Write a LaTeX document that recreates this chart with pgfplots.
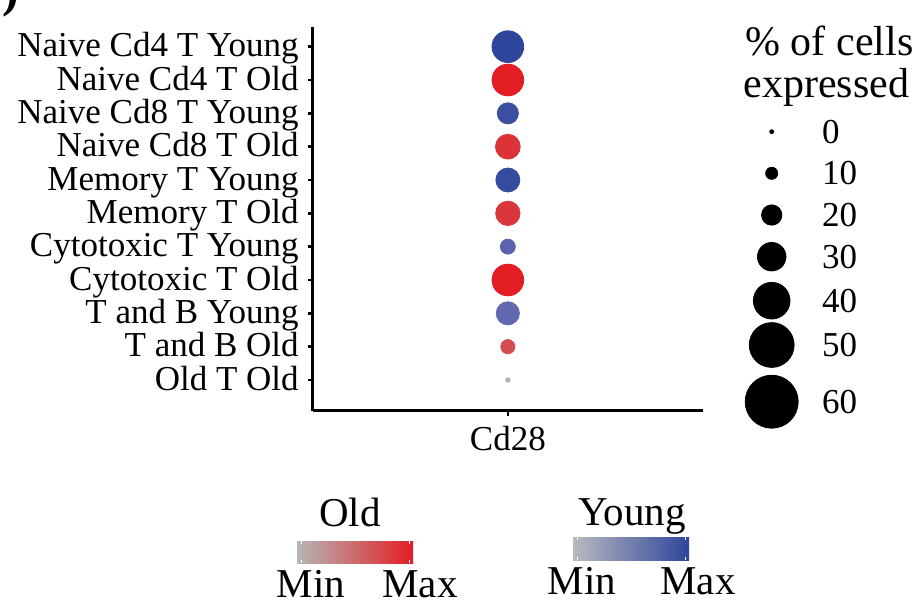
\documentclass[border=0pt]{standalone}
\usepackage{pgfplots}
\pgfplotsset{compat=1.18}
\usepackage{pgfplotstable}
\usepackage{fontspec}
\setmainfont{Liberation Serif}
\definecolor{oldred}{RGB}{226,30,36}
\definecolor{oldmid}{RGB}{206,110,112}
\definecolor{oldgrey}{RGB}{182,182,182}
\definecolor{youngblue}{RGB}{45,70,155}
\definecolor{youngmid}{RGB}{122,122,186}
\definecolor{younggrey}{RGB}{185,185,190}
\pgfplotsset{
  colormap={youngmap}{rgb255=(180,180,185) rgb255=(120,120,185) rgb255=(45,70,155)},
  colormap={oldmap}{rgb255=(175,175,175) rgb255=(226,30,36)},
}
% y: category position, pct: % of cells expressed, int: scaled expression
\pgfplotstableread{
x y pct int
1 11 34 1.00
1 9 21 0.90
1 7 24.5 0.95
1 5 13.5 0.70
1 3 23.5 0.65
}\youngdata
\pgfplotstableread{
x y pct int
1 10 34 1.00
1 8 25.5 0.85
1 6 25 0.82
1 4 34 1.00
1 2 12.5 0.68
1 1 0.5 0.00
}\olddata
\pgfplotstableread{
x y pct
771.7 -131.7 0
771.7 -173.3 10
771.7 -215 20
771.7 -256.7 30
771.7 -300.7 40
771.7 -345 50
771.7 -401.7 60
}\legenddata
\newcommand\lab{\fontsize{17.5bp}{20bp}\selectfont}
\newcommand\bigfont{\fontsize{21bp}{25bp}\selectfont}
\begin{document}
\begin{tikzpicture}
\useasboundingbox (0,0) rectangle (459.5bp,-301bp);
\begin{axis}[
  at={(156.35bp,-205.35bp)}, anchor=south west,
  width=195.15bp, height=191.85bp, scale only axis,
  xmin=0, xmax=2, ymin=0.079, ymax=11.59,
  axis x line=bottom, axis y line=left,
  axis line style={-, line width=1.5bp, black},
  xtick={1}, xticklabels={Cd28},
  ytick={1,2,3,4,5,6,7,8,9,10,11},
  yticklabels={Old T Old, T and B Old, T and B Young, Cytotoxic T Old, Cytotoxic T Young, Memory T Old, Memory T Young, Naive Cd8 T Old, Naive Cd8 T Young, Naive Cd4 T Old, Naive Cd4 T Young},
  tick align=outside, major tick length=2.5bp,
  tick style={line width=1.2bp, black},
  ticklabel style={font=\lab},
  yticklabel style={xshift=-1bp, text height=12bp, text depth=2bp},
  xticklabel style={yshift=-1.5bp},
  point meta min=0, point meta max=1,
  clip=false,
]
\addplot[scatter, only marks, mark=*, colormap name=youngmap,
  scatter/use mapped color={draw=mapped color, fill=mapped color},
  visualization depends on={\thisrow{pct} \as \pct},
  scatter/@pre marker code/.append style={/tikz/mark size=1+0.205*\pct},
  point meta=\thisrow{int}] table[x=x, y=y] {\youngdata};
\addplot[scatter, only marks, mark=*, colormap name=oldmap,
  scatter/use mapped color={draw=mapped color, fill=mapped color},
  visualization depends on={\thisrow{pct} \as \pct},
  scatter/@pre marker code/.append style={/tikz/mark size=1+0.205*\pct},
  point meta=\thisrow{int}] table[x=x, y=y] {\olddata};
\end{axis}
\begin{axis}[
  at={(370bp,-210bp)}, anchor=south west,
  width=30bp, height=150bp, scale only axis,
  xmin=740, xmax=800, ymin=-420, ymax=-120,
  hide axis, clip=false,
  /pgf/number format/assume math mode=true,
]
\addplot[scatter, only marks, mark=*,
  scatter/use mapped color={draw=black, fill=black},
  visualization depends on={\thisrow{pct} \as \pct},
  scatter/@pre marker code/.append style={/tikz/mark size=1+0.205*\pct},
  point meta=\thisrow{pct}]
  table[x=x, y=y] {\legenddata};
\addplot[only marks, mark=none, point meta=\thisrow{pct},
  nodes near coords,
  nodes near coords style={anchor=west, xshift=25bp, inner sep=0pt, font=\lab, text=black}]
  table[x=x, y=y] {\legenddata};
\end{axis}
% legend title
\node[anchor=base west, inner sep=0pt, font=\bigfont] at (372.5bp,-27.5bp) {\% of cells};
\node[anchor=base west, inner sep=0pt, font=\bigfont] at (371.5bp,-48.5bp) {expressed};
% panel letter (cut off)
\node[anchor=base east, inner sep=0pt, font=\fontsize{25bp}{28bp}\selectfont\bfseries] at (10bp,-3bp) {b)};
% colour bars
\shade[left color=oldgrey, middle color=oldmid, right color=oldred] (148.5bp,-270.5bp) rectangle (206.5bp,-281.5bp);
\shade[left color=younggrey, middle color=youngmid, right color=youngblue] (286.5bp,-268.5bp) rectangle (344.5bp,-280bp);
\foreach \xx in {150.5,204.5} {
  \draw[white, line width=0.4bp] (\xx bp,-270.5bp) -- ++(0,-1.5bp);
  \draw[white, line width=0.4bp] (\xx bp,-281.5bp) -- ++(0,1.5bp);
}
\foreach \xx in {288.5,342.5} {
  \draw[white, line width=0.4bp] (\xx bp,-268.5bp) -- ++(0,-1.5bp);
  \draw[white, line width=0.4bp] (\xx bp,-280bp) -- ++(0,1.5bp);
}
\node[anchor=base, inner sep=0pt, font=\fontsize{20.5bp}{24bp}\selectfont] at (175bp,-263.3bp) {Old};
\node[anchor=base, inner sep=0pt, font=\fontsize{20.5bp}{24bp}\selectfont] at (316bp,-262.5bp) {Young};
\node[anchor=base, inner sep=0pt, font=\fontsize{20.5bp}{24bp}\selectfont] at (155.5bp,-298.5bp) {Min};
\node[anchor=base, inner sep=0pt, font=\fontsize{20.5bp}{24bp}\selectfont] at (210bp,-298.5bp) {Max};
\node[anchor=base, inner sep=0pt, font=\fontsize{20.5bp}{24bp}\selectfont] at (291bp,-297bp) {Min};
\node[anchor=base, inner sep=0pt, font=\fontsize{20.5bp}{24bp}\selectfont] at (349bp,-297bp) {Max};
\end{tikzpicture}
\end{document}
